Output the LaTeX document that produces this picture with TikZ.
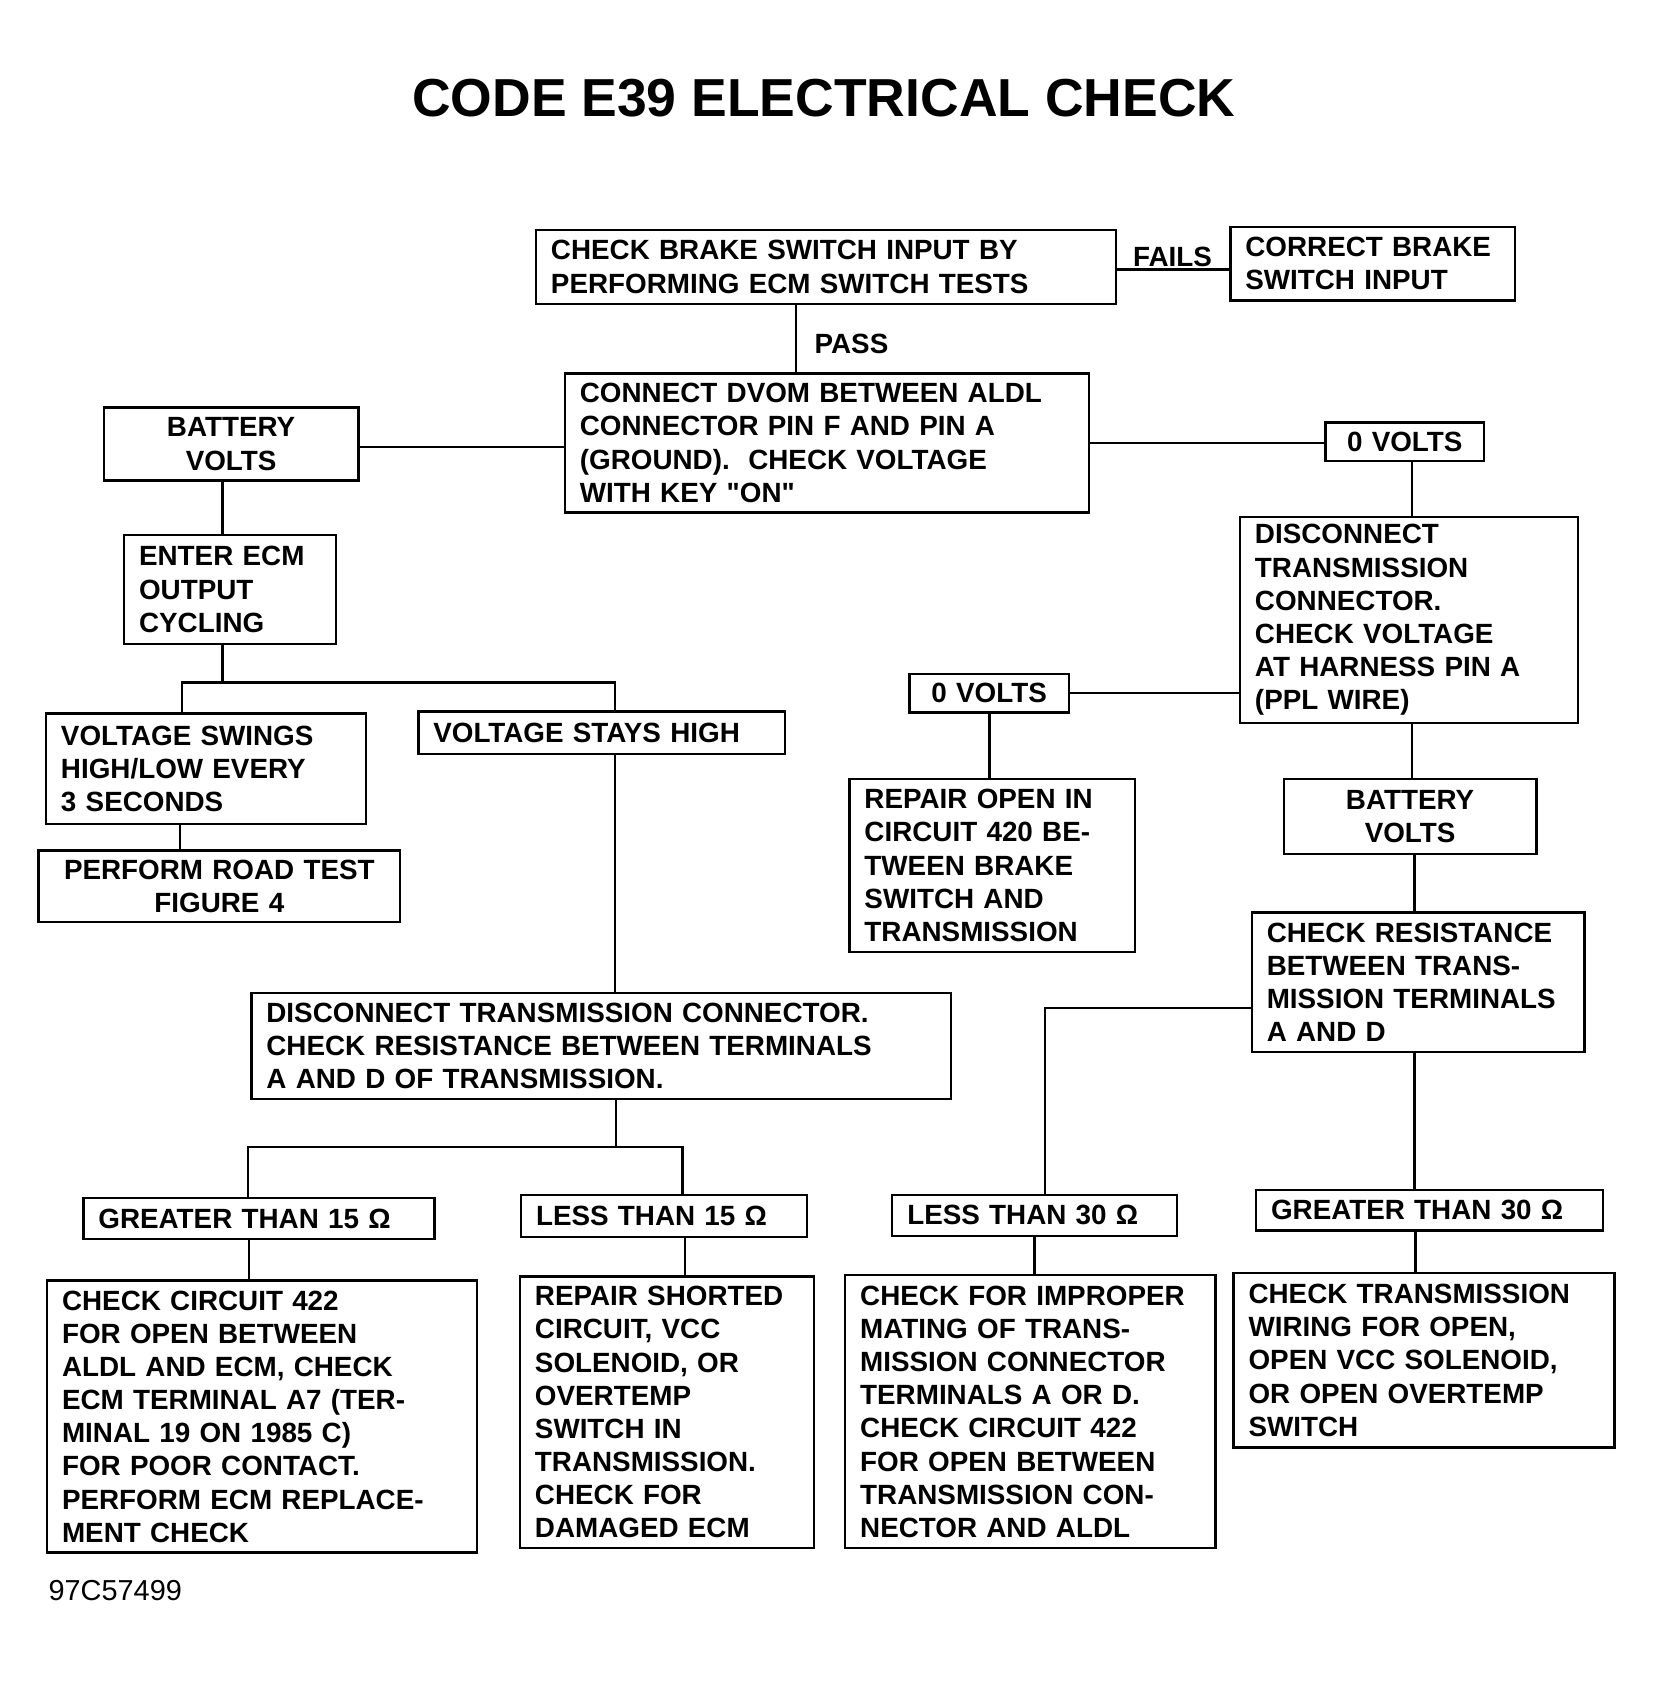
\documentclass[tikz,border=0pt]{standalone}
\usepackage{fontspec}
\setmainfont{Liberation Sans}[Ligatures=NoCommon]
\begin{document}
\begin{tikzpicture}[x=1pt,y=-1pt,line width=2.2pt,
  bx/.style={draw,inner sep=0pt,anchor=center,font=\bfseries\fontsize{26}{31}\selectfont}]
\useasboundingbox[fill=white] (0,0) rectangle (1551,1574);
\newcommand\bx[7]{%
  \pgfmathsetmacro\w{#4-#2}\pgfmathsetmacro\h{#5-#3}\pgfmathsetmacro\tw{#4-#2-28}%
  \node[bx,minimum width=\w pt,minimum height=\h pt,text width=\tw pt,align=#6] (#1) at ({(#2+#4)/2},{(#3+#5)/2}) {#7};}
\node[font=\bfseries\fontsize{50}{60}\selectfont] (title) at (770,92) {CODE E39 ELECTRICAL CHECK};
\bx{b1}{501}{215}{1043}{284}{left}{CHECK BRAKE SWITCH INPUT BY\\PERFORMING ECM SWITCH TESTS}
\bx{b2}{1150}{212}{1416}{281}{left}{CORRECT BRAKE\\SWITCH INPUT}
\bx{b3}{528}{349}{1018}{479}{left}{CONNECT DVOM BETWEEN ALDL\\CONNECTOR PIN F AND PIN A\\(GROUND). \ CHECK VOLTAGE\\WITH KEY \textquotedbl ON\textquotedbl}
\bx{b4}{97}{381}{335}{449}{center}{BATTERY\\VOLTS}
\bx{b5}{1239}{395}{1387}{431}{center}{0 VOLTS}
\bx{b6}{1159}{483}{1475}{676}{left}{DISCONNECT\\TRANSMISSION\\CONNECTOR.\\CHECK VOLTAGE\\AT HARNESS PIN A\\(PPL WIRE)}
\bx{b7}{850}{630}{999}{666}{center}{0 VOLTS}
\bx{b8}{794}{728}{1061}{890}{left}{REPAIR OPEN IN\\CIRCUIT 420 BE-\\TWEEN BRAKE\\SWITCH AND\\TRANSMISSION}
\bx{b9}{1200}{728}{1436}{798}{center}{BATTERY\\VOLTS}
\bx{b10}{1170}{853}{1481}{983}{left}{CHECK RESISTANCE\\BETWEEN TRANS-\\MISSION TERMINALS\\A AND D}
\bx{b11}{834}{1117}{1100}{1155}{left}{LESS THAN 30 Ω}
\bx{b12}{1174}{1112}{1498}{1150}{left}{GREATER THAN 30 Ω}
\bx{b13}{790}{1192}{1136}{1447}{left}{CHECK FOR IMPROPER\\MATING OF TRANS-\\MISSION CONNECTOR\\TERMINALS A OR D.\\CHECK CIRCUIT 422\\FOR OPEN BETWEEN\\TRANSMISSION CON-\\NECTOR AND ALDL}
\bx{b14}{1153}{1190}{1509}{1353}{left}{CHECK TRANSMISSION\\WIRING FOR OPEN,\\OPEN VCC SOLENOID,\\OR OPEN OVERTEMP\\SWITCH}
\bx{b15}{116}{500}{314}{602}{left}{ENTER ECM\\OUTPUT\\CYCLING}
\bx{b16}{43}{667}{342}{770}{left}{VOLTAGE SWINGS\\HIGH/LOW EVERY\\3 SECONDS}
\bx{b17}{391}{665}{734}{705}{left}{VOLTAGE STAYS HIGH}
\bx{b18}{36}{795}{374}{862}{center}{PERFORM ROAD TEST\\FIGURE 4}
\bx{b19}{235}{928}{889}{1027}{left}{DISCONNECT TRANSMISSION CONNECTOR.\\CHECK RESISTANCE BETWEEN TERMINALS\\A AND D OF TRANSMISSION.}
\bx{b20}{78}{1120}{406}{1158}{left}{GREATER THAN 15 Ω}
\bx{b21}{487}{1117}{754}{1156}{left}{LESS THAN 15 Ω}
\bx{b22}{44}{1197}{446}{1451}{left}{CHECK CIRCUIT 422\\FOR OPEN BETWEEN\\ALDL AND ECM, CHECK\\ECM TERMINAL A7 (TER-\\MINAL 19 ON 1985 C)\\FOR POOR CONTACT.\\PERFORM ECM REPLACE-\\MENT CHECK}
\bx{b23}{486}{1193}{761}{1447}{left}{REPAIR SHORTED\\CIRCUIT, VCC\\SOLENOID, OR\\OVERTEMP\\SWITCH IN\\TRANSMISSION.\\CHECK FOR\\DAMAGED ECM}
\node[font=\fontsize{27}{31}\selectfont,anchor=west] (code) at (41,1487) {97C57499};
\node[font=\bfseries\fontsize{26}{31}\selectfont] (fails) at (1096,240) {FAILS};
\node[font=\bfseries\fontsize{26}{31}\selectfont,anchor=west] (pass) at (757,321) {PASS};
\draw (1043,252) -- (1150,252);
\draw (744,284) -- (744,349);
\draw (335,418) -- (528,418);
\draw (1018,414) -- (1239,414);
\draw (1320,431) -- (1320,483);
\draw (999,648) -- (1159,648);
\draw (925,666) -- (925,728);
\draw (1320,676) -- (1320,728);
\draw (1322,798) -- (1322,853);
\draw (1170,942) -- (977,942) -- (977,1117);
\draw (1322,983) -- (1322,1112);
\draw (967,1155) -- (967,1192);
\draw (1323,1150) -- (1323,1190);
\draw (208,449) -- (208,500);
\draw (208,602) -- (208,638);
\draw (170,667) -- (170,638) -- (575,638) -- (575,665);
\draw (168,770) -- (168,795);
\draw (575,705) -- (575,928);
\draw (576,1027) -- (576,1072);
\draw (232,1120) -- (232,1072) -- (638,1072) -- (638,1117);
\draw (233,1158) -- (233,1197);
\draw (640,1156) -- (640,1193);
\end{tikzpicture}
\end{document}
